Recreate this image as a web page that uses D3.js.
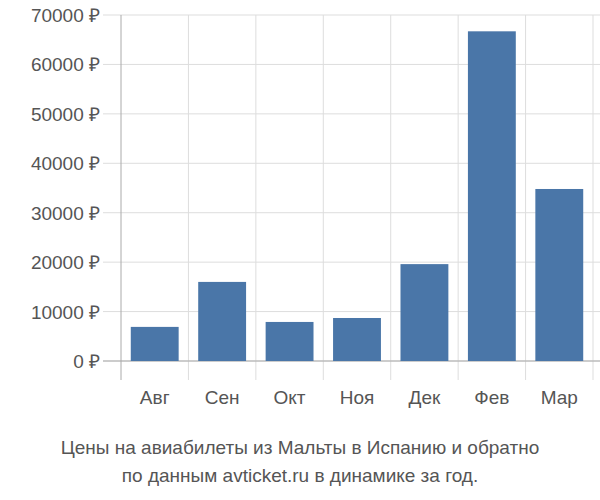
<!DOCTYPE html>
<html><head><meta charset="utf-8">
<script src="https://cdn.jsdelivr.net/npm/d3@7"></script>
<style>body{margin:0;background:#fff}</style></head>
<body><svg id="c" width="600" height="500"></svg>
<script>
const categories=["Авг","Сен","Окт","Ноя","Дек","Фев","Мар"];
const values=[6900,16000,7900,8700,19600,66700,34800];
const yTicks=[0,10000,20000,30000,40000,50000,60000,70000];
const titleLines=["Цены на авиабилеты из Мальты в Испанию и обратно","по данным avticket.ru в динамике за год."];
const svg=d3.select("#c");
const font="Liberation Sans, Arial, sans-serif";
const x=d3.scaleBand().domain(categories).range([121,593]).paddingInner(0.29).paddingOuter(0.145);
const y=d3.scaleLinear().domain([0,70000]).range([361,15]);
const g=svg.append("g");
// horizontal grid
g.selectAll(".h").data(yTicks).join("line").attr("x1",103).attr("x2",600)
 .attr("y1",d=>y(d)).attr("y2",d=>y(d)).attr("stroke","#ddd");
// vertical grid
const step=x.step();
const bounds=d3.range(categories.length+1).map(i=>121+i*step);
g.selectAll(".v").data(bounds).join("line").attr("x1",d=>d).attr("x2",d=>d)
 .attr("y1",15).attr("y2",380).attr("stroke",(d,i)=>i==0?"#aaa":"#ddd");
g.append("line").attr("x1",103).attr("x2",600).attr("y1",y(0)).attr("y2",y(0)).attr("stroke","#aaa");
g.selectAll(".yl").data(yTicks).join("text").attr("x",100).attr("y",d=>y(d)+7)
 .attr("text-anchor","end").attr("font-family",font).attr("font-size",19).attr("fill","#555")
 .text(d=>d+" ₽");
g.selectAll("rect").data(values).join("rect").attr("x",(d,i)=>x(categories[i]))
 .attr("width",x.bandwidth()).attr("y",d=>y(d)).attr("height",d=>y(0)-y(d)).attr("fill","#4a76a8");
g.selectAll(".xl").data(categories).join("text").attr("x",d=>x(d)+x.bandwidth()/2).attr("y",404)
 .attr("text-anchor","middle").attr("font-family",font).attr("font-size",19).attr("fill","#555").text(d=>d);
svg.selectAll(".t").data(titleLines).join("text").attr("x",300).attr("y",(d,i)=>454+i*28)
 .attr("text-anchor","middle").attr("font-family",font).attr("font-size",19).attr("fill","#555").text(d=>d);
</script></body></html>
